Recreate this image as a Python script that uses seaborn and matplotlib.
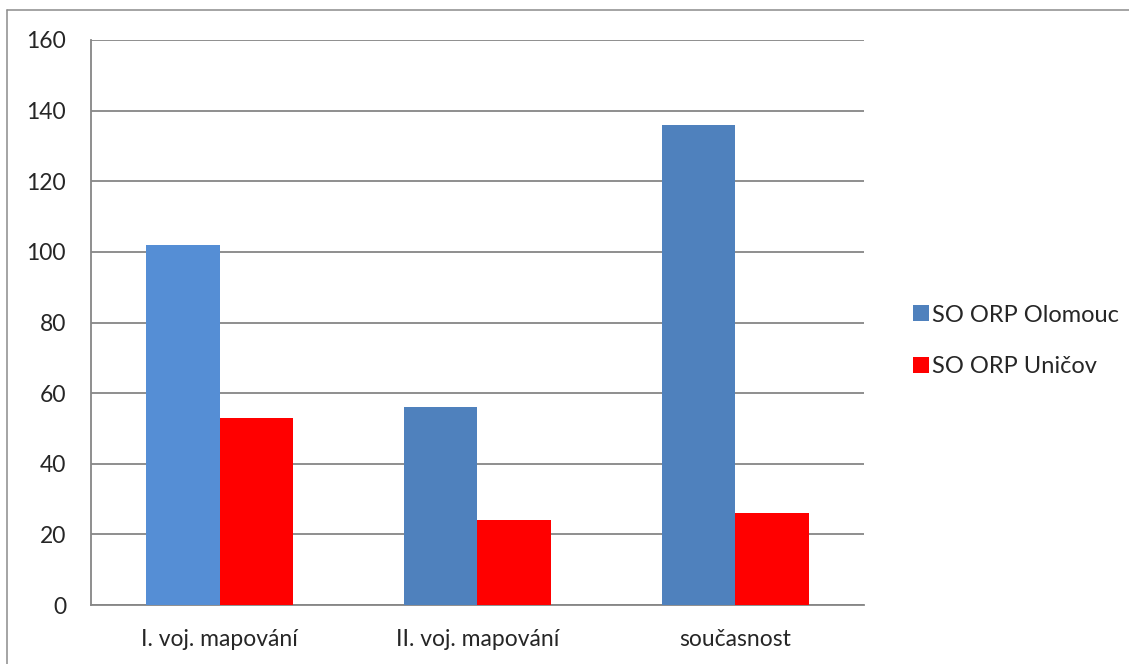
import numpy as np
import pandas as pd
import matplotlib
matplotlib.use("Agg")
import matplotlib.pyplot as plt
import seaborn as sns
from matplotlib.lines import Line2D

# data
categories = ["I. voj. mapování", "II. voj. mapování", "současnost"]
series = ["SO ORP Olomouc", "SO ORP Uničov"]
olomouc = [102, 56, 136]
unicov = [53, 24, 26]
yticks = [0, 20, 40, 60, 80, 100, 120, 140, 160]

df = pd.DataFrame({
    "kategorie": categories * 2,
    "serie": [series[0]] * 3 + [series[1]] * 3,
    "hodnota": olomouc + unicov,
})

sns.set_style("white")
plt.rcParams["font.family"] = ["Lato", "DejaVu Sans"]

fig = plt.figure(figsize=(11.29, 6.64), dpi=100)
ax = fig.add_axes([91 / 1129, 1 - 605 / 664, (864 - 91) / 1129, (605 - 40) / 664])

palette = {series[0]: "#4f81bd", series[1]: "#ff0000"}
sns.barplot(data=df, x="kategorie", y="hodnota", hue="serie", order=categories,
            hue_order=series, palette=palette, width=0.57, gap=0,
            saturation=1, linewidth=0, ax=ax, legend=False, zorder=3)

# first bar is a lighter blue in the original
ax.patches[0].set_facecolor("#558ed5")

ax.set_ylim(0, 160)
ax.set_xlim(-0.5, 2.5)
ax.set_yticks(yticks)
ax.yaxis.grid(True, color="#868686", linewidth=1.3, zorder=0)
ax.set_axisbelow(True)
ax.set_xlabel("")
ax.set_ylabel("")

for s in ["top", "right"]:
    ax.spines[s].set_visible(False)
for s in ["left", "bottom"]:
    ax.spines[s].set_color("#868686")
    ax.spines[s].set_linewidth(1.3)

ax.tick_params(axis="y", length=6, width=1.3, color="#868686", labelsize=16.5, pad=12)
ax.tick_params(axis="x", which="major", length=0, labelsize=16.5, pad=17)
ax.set_xticks([-0.5, 0.5, 1.5, 2.5], minor=True)
ax.tick_params(axis="x", which="minor", length=6, width=1.3, color="#868686", direction="out")

handles = [Line2D([], [], marker="s", linestyle="", markersize=11,
                  markerfacecolor=palette[s], markeredgewidth=0) for s in series]
fig.legend(handles, series, loc="center left", bbox_to_anchor=(893 / 1129, 1 - 341 / 664),
           frameon=False, fontsize=17, handlelength=0.55, handletextpad=0.2,
           labelspacing=1.3)

# thin frame on left and top of the picture
fig.add_artist(Line2D([7 / 1129, 7 / 1129], [0, 1 - 10 / 664], transform=fig.transFigure,
                      color="#8c8c8c", linewidth=1.1))
fig.add_artist(Line2D([7 / 1129, 1], [1 - 10 / 664, 1 - 10 / 664], transform=fig.transFigure,
                      color="#8c8c8c", linewidth=1.1))

fig.savefig("out.png", dpi=100)
